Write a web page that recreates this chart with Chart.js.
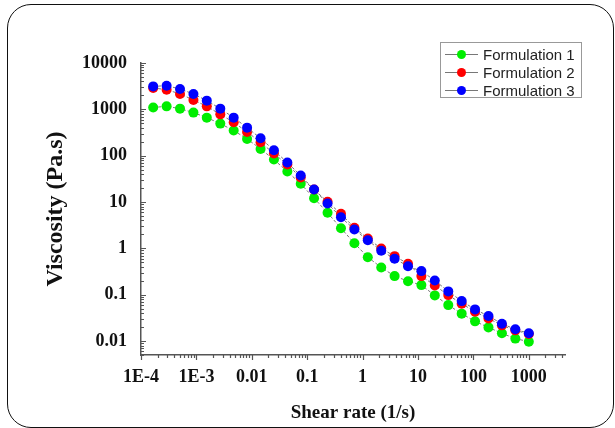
<!DOCTYPE html>
<html>
<head>
    <meta charset="utf-8">
    <title>Viscosity vs Shear rate</title>
    <script src="https://cdn.jsdelivr.net/npm/chart.js@4"></script>
    <style>
        body {
            margin: 0;
            background-color: #fff;
        }
        #wrap {
            position: relative;
            width: 615px;
            height: 428px;
            overflow: hidden;
        }
        #frame {
            position: absolute;
            left: 7px;
            top: 4px;
            width: 607px;
            height: 424px;
            border: 1.5px solid #111;
            border-radius: 24px;
            box-sizing: border-box;
            pointer-events: none;
        }
        #legend {
            position: absolute;
            left: 440px;
            top: 42px;
            width: 142px;
            height: 56px;
            padding-top: 2px;
            border: 1px solid #999;
            box-sizing: border-box;
            background: #fff;
            font: 15px "Liberation Sans", Arial, sans-serif;
            color: #222;
        }
        .row {
            height: 18px;
            display: flex;
            align-items: center;
        }
        .key {
            position: relative;
            width: 33px;
            height: 1px;
            margin: 0 5px 0 4px;
            background: #777;
        }
        .key i {
            position: absolute;
            left: 12px;
            top: -4px;
            width: 9px;
            height: 9px;
            border-radius: 50%;
        }
    </style>
</head>
<body>
<div id="wrap">
    <canvas id="viscChart" width="615" height="428"></canvas>
    <div id="frame"></div>
    <div id="legend"></div>
</div>

<script>
    // shear rate sweep (1/s)
    const shearRate = [1.66e-4, 2.9e-4, 5.06e-4, 8.84e-4, 1.54e-3, 2.7e-3, 4.71e-3, 8.22e-3, 0.0144, 0.0251,
        0.0438, 0.0764, 0.133, 0.233, 0.407, 0.711, 1.24, 2.17, 3.78, 6.6,
        11.5, 20.1, 35.2, 61.4, 107, 187, 327, 571, 1000];

    // viscosity (Pa.s)
    const formulation1 = [1100, 1160, 1035, 850, 662, 492, 348, 230, 140, 82.4,
        45.4, 24.7, 12.1, 5.85, 2.72, 1.29, 0.646, 0.387, 0.252, 0.196,
        0.161, 0.0966, 0.0597, 0.039, 0.0266, 0.0197, 0.0147, 0.0113, 0.0097];
    const formulation2 = [2890, 2660, 2150, 1595, 1160, 780, 525, 326, 195, 111,
        64.3, 33.7, 18.6, 10.1, 5.57, 2.78, 1.63, 0.995, 0.679, 0.466,
        0.252, 0.158, 0.098, 0.064, 0.043, 0.0308, 0.0218, 0.017, 0.0142];
    const formulation3 = [3130, 3240, 2750, 2150, 1540, 1035, 662, 403, 237, 131,
        71, 37.2, 18.6, 9.28, 4.7, 2.55, 1.5, 0.887, 0.597, 0.413,
        0.323, 0.203, 0.118, 0.0728, 0.0482, 0.0346, 0.0237, 0.0179, 0.0147];

    const seriesNames = ['Formulation 1', 'Formulation 2', 'Formulation 3'];
    const seriesColors = ['#00ee00', '#ff0000', '#0000ff'];

    const xTickValues = [1e-4, 1e-3, 0.01, 0.1, 1, 10, 100, 1000];
    const xTickLabels = ['1E-4', '1E-3', '0.01', '0.1', '1', '10', '100', '1000'];
    const yTickValues = [0.01, 0.1, 1, 10, 100, 1000, 10000];
    const yTickLabels = ['0.01', '0.1', '1', '10', '100', '1000', '10000'];

    function decadeLabel(value, values, labels) {
        const i = values.findIndex(v => Math.abs(Math.log10(v) - Math.log10(value)) < 1e-6);
        return i < 0 ? '' : labels[i];
    }

    // 0 = no mark, 1 = minor (2..9), 2 = decade
    function tickKind(v) {
        const e = Math.floor(Math.log10(v) + 1e-9);
        const s = v / Math.pow(10, e);
        const r = Math.round(s);
        if (Math.abs(s - r) > 1e-6 || r < 1 || r > 9) return 0;
        return r === 1 ? 2 : 1;
    }

    // x ticks hang below the axis, y ticks point into the plot
    const tickMarks = {
        id: 'tickMarks',
        afterDraw(chart) {
            const ctx = chart.ctx;
            const xs = chart.scales.x, ys = chart.scales.y;
            ctx.save();
            ctx.strokeStyle = '#555';
            ctx.lineWidth = 1.2;
            ctx.beginPath();
            xs.ticks.forEach(t => {
                const k = tickKind(t.value);
                if (!k) return;
                const px = Math.round(xs.getPixelForValue(t.value)) + 0.5;
                ctx.moveTo(px, xs.top);
                ctx.lineTo(px, xs.top + (k === 2 ? 5 : 3));
            });
            ys.ticks.forEach(t => {
                const k = tickKind(t.value);
                if (!k) return;
                const py = Math.round(ys.getPixelForValue(t.value)) + 0.5;
                ctx.moveTo(ys.right, py);
                ctx.lineTo(ys.right + (k === 2 ? 5 : 3), py);
            });
            ctx.stroke();
            ctx.restore();
        }
    };

    const allSeries = [formulation1, formulation2, formulation3];
    const datasets = allSeries.map((vals, s) => ({
        label: seriesNames[s],
        data: shearRate.map((x, i) => ({x: x, y: vals[i]})),
        borderColor: '#777',
        borderWidth: 1,
        borderDash: [3, 2],
        pointBackgroundColor: seriesColors[s],
        pointBorderColor: seriesColors[s],
        pointBorderWidth: 0,
        pointRadius: 5,
        fill: false,
        tension: 0,
        order: 2 - s
    }));

    const tickFont = {family: 'Liberation Serif', size: 18, weight: 'bold'};

    new Chart(document.getElementById('viscChart'), {
        type: 'line',
        data: {datasets: datasets},
        options: {
            responsive: false,
            animation: false,
            layout: {padding: {left: 30, top: 63, right: 50, bottom: 0}},
            plugins: {
                legend: {display: false},
                tooltip: {enabled: false}
            },
            scales: {
                x: {
                    type: 'logarithmic',
                    min: 1e-4,
                    max: 4500,
                    grid: {display: false, drawTicks: false},
                    border: {display: true, color: '#555', width: 1.5},
                    ticks: {
                        autoSkip: false,
                        maxRotation: 0,
                        padding: 12,
                        color: '#111',
                        font: tickFont,
                        callback: v => decadeLabel(v, xTickValues, xTickLabels)
                    },
                    title: {
                        display: true,
                        text: 'Shear rate (1/s)',
                        color: '#111',
                        font: {family: 'Liberation Serif', size: 19, weight: 'bold'},
                        padding: {top: 0, bottom: 4}
                    },
                    afterFit: s => { s.height = 73; }
                },
                y: {
                    type: 'logarithmic',
                    min: 0.005,
                    max: 10000,
                    grid: {display: false, drawTicks: false},
                    border: {display: true, color: '#555', width: 1.5},
                    ticks: {
                        autoSkip: false,
                        padding: 14,
                        color: '#111',
                        font: tickFont,
                        callback: v => decadeLabel(v, yTickValues, yTickLabels)
                    },
                    title: {
                        display: true,
                        text: 'Viscosity (Pa.s)',
                        color: '#111',
                        font: {family: 'Liberation Serif', size: 24, weight: 'bold'},
                        padding: {top: 11, bottom: 0}
                    },
                    afterFit: s => { s.width = 111; }
                }
            }
        },
        plugins: [tickMarks]
    });

    // legend box: line - dot - line, then the name
    const legend = document.getElementById('legend');
    seriesNames.forEach((name, s) => {
        const row = document.createElement('div');
        row.className = 'row';
        const key = document.createElement('span');
        key.className = 'key';
        const dot = document.createElement('i');
        dot.style.background = seriesColors[s];
        key.appendChild(dot);
        const txt = document.createElement('span');
        txt.textContent = name;
        row.appendChild(key);
        row.appendChild(txt);
        legend.appendChild(row);
    });
</script>
</body>
</html>
